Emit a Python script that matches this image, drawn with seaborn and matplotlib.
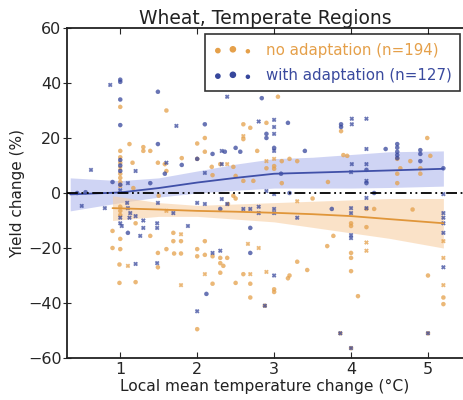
import numpy as np
import pandas as pd
import matplotlib
matplotlib.use('Agg')
import matplotlib.pyplot as plt
import seaborn as sns

# ---- scatter data ----
noad_x = [1.0, 1.6, 1.12, 1.3, 1.3, 1.39, 1.0, 1.0, 1.0, 1.0, 1.0, 1.0, 1.0, 1.0,
          2.0, 2.1, 1.8, 1.49, 1.16, 1.6, 1.58, 1.17, 2.6, 2.69, 2.9, 3.05, 2.6, 2.6,
          2.1, 2.78, 2.0, 2.19, 2.3, 2.39, 2.47, 2.2, 2.5, 2.6, 2.73, 2.9, 3.0, 3.1,
          3.2, 3.3, 2.9, 3.0, 3.0, 3.1, 3.87, 3.9, 3.7, 4.6, 4.99, 4.77, 4.9, 4.9,
          4.6, 4.6, 5.03, 4.64, 3.95,
          1.0, 1.0, 1.0, 0.9, 1.0, 0.9, 1.0, 1.39, 1.2, 0.99, 1.1, 1.49, 0.99, 1.2,
          1.79, 1.69, 1.69, 1.79, 1.79, 1.49, 1.6, 1.7, 1.79, 2.0, 2.0, 1.6, 2.5,
          3.3, 2.1, 2.1, 2.2, 2.3, 2.39, 2.3, 2.34, 2.66, 2.8, 3.69, 2.1, 2.2, 2.3,
          2.5, 2.6, 2.69, 2.69, 2.9, 3.0, 3.0, 3.2, 3.43, 3.3, 2.69, 2.88, 2.0, 4.0,
          4.0, 4.0, 4.0, 4.0, 4.09, 3.86, 4.0, 5.0, 5.0, 3.77, 4.2, 4.3, 4.2, 4.2,
          4.2, 4.8, 5.2, 5.2, 5.2, 5.2, 5.2, 2.47, 2.4, 1.5, 3.18, 3.5]
noad_y = [31.3, 30.0, 17.8, 16.7, 15.3, 15.3, 15.3, 13.0, 11.0, 9.0, 7.0, 5.5, 4.0, 2.5,
          18.0, 20.0, 12.7, 11.0, 11.0, 8.0, 10.5, 1.8, 25.0, 23.7, 25.5, 35.0, 20.7, 19.6,
          15.0, 15.3, 12.4, 9.5, 10.5, 10.5, 9.5, 6.5, 6.2, 4.4, 4.4, 11.6, 12.4, 11.6,
          12.4, 11.6, 9.0, 8.8, 9.8, 3.6, 22.5, 13.8, 4.0, 12.4, 20.0, 11.6, 7.0, 9.0,
          3.6, 7.0, 13.5, 9.0, 13.5,
          -5.0, -6.5, -8.0, -13.8, -16.7, -20.0, -20.4, -15.6, -11.0, -26.0, -26.5, -27.0, -32.7, -32.4,
          -33.5, -14.5, -17.5, -15.0, -17.5, -21.8, -20.4, -22.0, -22.0, -20.4, -23.0, -6.5, -2.0,
          -3.0, -17.5, -22.5, -23.0, -23.6, -23.6, -25.5, -26.5, -18.5, -20.0, -19.3, -29.5, -33.0, -29.0,
          -32.7, -29.5, -29.5, -33.0, -28.7, -35.0, -36.0, -30.0, -28.0, -25.0, -38.0, -41.0, -49.5, -11.0,
          -12.0, -21.8, -23.6, -28.4, -37.5, -51.0, -56.4, -51.0, -30.0, -15.6, -5.8, -5.8, -12.4, -18.0,
          -21.0, -6.0, -17.5, -23.6, -33.5, -38.0, -40.4, -1.0, -4.0, -1.0, -31.0, -2.0]
noad_mk = ['o', 'o', 'o', 'o', 'o', 'o', 'o', 'o', 'o', 'x', 'o', 'o', 'o', 'x',
           'o', 'o', 'o', 'o', 'o', 'o', 'o', 'o', 'o', 'o', 'o', 'o', 'x', 'o',
           'o', 'o', 'o', 'o', 'o', 'x', 'o', 'o', 'o', 'o', 'o', 'x', 'x', 'o',
           'o', 'o', 'o', 'o', 'o', 'o', 'o', 'o', 'o', 'o', 'o', 'o', 'o', 'o',
           'o', 'o', 'o', 'o', 'o',
           'o', 'o', 'o', 'o', 'o', 'o', 'o', 'o', 'o', 'o', 'x', 'o', 'o', 'o',
           'x', 'o', 'o', 'x', 'o', 'o', 'o', 'o', 'o', 'o', 'o', 'x', 'o',
           'x', 'o', 'o', 'o', 'o', 'o', 'o', 'o', 'x', 'x', 'o', 'x', 'o', 'o',
           'o', 'o', 'x', 'o', 'x', 'o', 'o', 'o', 'o', 'o', 'o', 'o', 'o', 'o',
           'o', 'o', 'o', 'o', 'o', 'o', 'o', 'o', 'o', 'o', 'o', 'o', 'o', 'x',
           'x', 'o', 'x', 'x', 'x', 'o', 'o', 'o', 'o', 'o', 'o', 'o']

ad_x = [0.87, 1.0, 1.0, 1.0, 1.0, 1.49, 1.73, 1.49, 1.6, 1.8, 2.0, 0.62, 1.2, 0.9,
        1.0, 1.0, 1.0, 1.0, 1.0, 1.1, 1.39, 1.58, 2.39, 2.84, 2.1, 2.8, 3.0, 3.0,
        3.0, 3.18, 2.9, 2.9, 2.2, 2.32, 2.36, 2.5, 2.56, 3.0, 3.0, 3.4, 2.32, 2.1,
        3.09, 3.87, 3.87, 4.01, 4.01, 4.2, 4.2, 4.45, 4.6, 4.6, 4.6, 4.6, 4.6, 4.9,
        4.9, 4.9, 5.2, 4.01, 4.0, 4.2, 4.2, 4.2, 4.2,
        0.44, 0.55, 0.5, 0.8, 1.09, 1.1, 1.13, 1.0, 1.0, 1.02, 1.2, 1.12, 1.3, 1.3,
        1.26, 1.1, 1.48, 1.48, 1.2, 1.48, 1.69, 1.88, 1.49, 2.32, 2.39, 2.0, 2.1,
        2.3, 2.9, 3.0, 3.0, 3.0, 2.6, 2.69, 2.8, 2.8, 3.3, 2.69, 2.2, 2.3, 2.69,
        3.0, 2.12, 2.0, 3.75, 4.0, 4.0, 4.0, 4.0, 4.2, 4.2, 4.3, 5.2, 5.2, 5.2,
        5.2, 5.2, 5.2, 3.2, 2.88, 3.86, 4.0, 5.0]
ad_y = [39.3, 40.4, 41.2, 34.0, 24.7, 36.8, 24.4, 17.8, 11.0, 10.2, 12.4, 8.4, 8.0, 4.0,
        12.0, 10.0, 8.0, 3.0, 1.0, 3.6, 3.6, 7.0, 35.0, 34.5, 25.0, 26.0, 26.6, 24.0,
        21.5, 25.5, 21.5, 20.0, 14.2, 15.3, 15.0, 16.4, 15.0, 16.4, 15.3, 15.3, 10.5, 7.3,
        7.0, 25.0, 24.0, 27.0, 25.0, 27.0, 16.0, 16.0, 17.8, 16.5, 15.0, 13.8, 12.7, 15.6,
        14.2, 11.6, 9.0, 10.5, 7.6, 10.5, 8.4, 4.4, 3.6,
        0.0, 0.3, -4.7, -5.5, -3.6, -5.5, -7.3, -9.0, -11.0, -12.0, -8.4, -9.0, -10.0, -12.7,
        -15.6, -14.5, -11.0, -12.7, -25.8, -25.5, -7.3, -12.0, -3.6, -2.2, -4.0, -3.6, -4.0,
        -5.8, 0.7, -0.4, -5.8, -7.3, -5.8, -5.8, -5.0, -7.3, -9.0, -12.7, -21.8, -21.0, -21.8,
        -30.0, -36.7, -43.0, -5.8, -5.5, -7.3, -15.3, -16.4, -1.8, -5.5, 0.0, -7.3, -9.0, -11.0,
        -14.5, -27.0, -0.4, 0.0, -41.0, -51.0, -56.4, -51.0]
ad_mk = ['x', 'o', 'o', 'o', 'o', 'o', 'x', 'o', 'x', 'o', 'o', 'x', 'x', 'o',
         'o', 'o', 'o', 'o', 'x', 'x', 'o', 'o', 'x', 'o', 'o', 'x', 'x', 'x',
         'x', 'o', 'o', 'o', 'o', 'x', 'o', 'o', 'o', 'o', 'x', 'o', 'x', 'x',
         'o', 'o', 'o', 'x', 'x', 'x', 'x', 'o', 'o', 'o', 'o', 'o', 'o', 'o',
         'o', 'o', 'o', 'x', 'x', 'x', 'o', 'x', 'o',
         'o', 'o', 'x', 'x', 'x', 'x', 'x', 'x', 'x', 'x', 'x', 'x', 'x', 'x',
         'x', 'o', 'x', 'x', 'x', 'x', 'x', 'x', 'x', 'x', 'x', 'x', 'x',
         'o', 'x', 'x', 'x', 'x', 'x', 'x', 'x', 'x', 'x', 'o', 'x', 'x', 'o',
         'x', 'o', 'x', 'o', 'x', 'x', 'x', 'x', 'x', 'x', 'o', 'x', 'x', 'x',
         'x', 'x', 'x', 'o', 'x', 'x', 'x', 'x']

# ---- fitted trends and confidence bands ----
ad_fit_x = [0.35, 1.0, 1.5, 2.0, 2.5, 3.0, 3.5, 4.0, 4.5, 5.2]
ad_fit = [-0.5, 0.2, 1.8, 3.8, 5.5, 7.0, 7.4, 7.8, 8.2, 8.8]
ad_lo = [-6.5, -3.5, -1.5, 0.0, 1.0, 1.8, 1.8, 1.8, 2.0, 2.5]
ad_hi = [5.5, 4.5, 5.5, 8.0, 10.5, 12.5, 13.0, 14.0, 15.0, 15.3]

noad_fit_x = [0.9, 1.5, 2.0, 2.5, 3.0, 3.5, 4.0, 4.5, 5.2]
noad_fit = [-5.5, -6.0, -6.5, -6.8, -7.2, -7.7, -8.4, -9.5, -11.0]
noad_lo = [-10.0, -8.5, -8.5, -9.5, -10.5, -12.5, -14.5, -16.5, -20.0]
noad_hi = [-1.0, -3.5, -4.5, -4.0, -3.5, -3.0, -2.5, -2.0, -2.0]

labels = ['no adaptation (n=194)', 'with adaptation (n=127)']
orange = '#E5A04A'
blue = '#37479C'

df = pd.concat([
    pd.DataFrame({'dT': noad_x, 'dY': noad_y, 'mk': noad_mk, 'grp': labels[0]}),
    pd.DataFrame({'dT': ad_x, 'dY': ad_y, 'mk': ad_mk, 'grp': labels[1]}),
])

sns.set_style('ticks')
plt.rcParams['font.family'] = ['DejaVu Sans']

fig = plt.figure(figsize=(4.63, 4.0), dpi=100)
ax = fig.add_axes([0.145, 0.105, 0.855, 0.825])

sns.scatterplot(data=df, x='dT', y='dY', hue='grp', style='mk',
                palette={labels[0]: orange, labels[1]: blue},
                markers={'o': 'o', 'x': 'X'}, s=9, alpha=0.75,
                linewidth=0.2, edgecolor='face', legend=False, ax=ax, zorder=3)

ax.fill_between(ad_fit_x, ad_lo, ad_hi, color='#A9B1EC', alpha=0.55, lw=0, zorder=2)
ax.fill_between(noad_fit_x, noad_lo, noad_hi, color='#F8CFA4', alpha=0.6, lw=0, zorder=2)
sns.lineplot(x=ad_fit_x, y=ad_fit, color='#4050A8', lw=1.3, ax=ax, zorder=4)
sns.lineplot(x=noad_fit_x, y=noad_fit, color='#E0963A', lw=1.3, ax=ax, zorder=4)
ax.axhline(0, color='black', lw=1.3, ls=(0, (6, 2, 1, 2, 1, 2)), zorder=5)

ax.set_xlim(0.31, 5.455)
ax.set_ylim(-60, 60)
ax.set_xticks([1, 2, 3, 4, 5])
ax.set_yticks([-60, -40, -20, 0, 20, 40, 60])
ax.tick_params(axis='x', direction='in', top=True, length=4, labelsize=11.5, pad=3)
ax.tick_params(axis='y', direction='inout', length=6, labelsize=11.5, pad=1)
for s in ['left', 'bottom', 'top']:
    ax.spines[s].set_linewidth(1.3)
    ax.spines[s].set_color('#222222')
ax.spines['right'].set_visible(False)

ax.set_xlabel('Local mean temperature change (\u00b0C)', fontsize=11.2, color='#222222', labelpad=1)
ax.set_ylabel('Yield change (%)', fontsize=11, color='#222222', labelpad=2)
ax.set_title('Wheat, Temperate Regions', fontsize=13.5, color='#222222', pad=3)

# legend proxies with uneven dot sizes
h1 = ax.scatter([np.nan, np.nan], [np.nan, np.nan], s=[5, 14], marker='o', color=orange)
h2 = ax.scatter([np.nan, np.nan], [np.nan, np.nan], s=[5, 14], marker='o', color=blue)
leg = ax.legend([h1, h2], labels, loc='upper right', bbox_to_anchor=(1.0, 0.99),
                scatterpoints=3, fontsize=10.8, frameon=True, fancybox=False,
                handlelength=2.6, handletextpad=0.9, borderpad=0.55, labelspacing=0.7,
                borderaxespad=0.2)
leg.get_frame().set_edgecolor('black')
leg.get_frame().set_linewidth(1.2)
for t, c in zip(leg.get_texts(), [orange, '#3A4A9E']):
    t.set_color(c)

fig.savefig('out.png', dpi=100)
